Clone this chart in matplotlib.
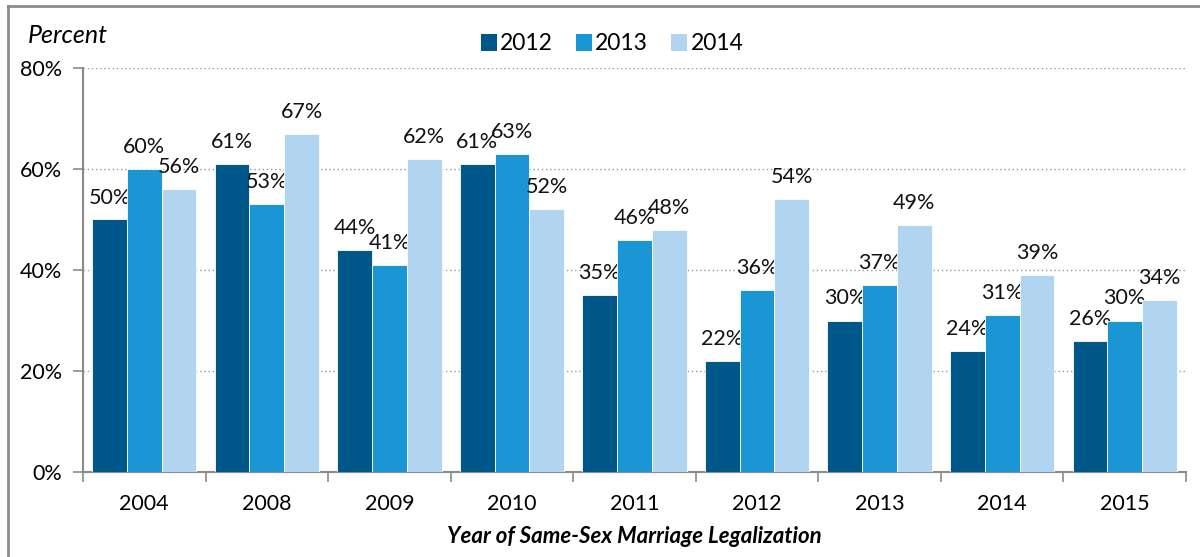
import numpy as np
import matplotlib
matplotlib.use("Agg")
import matplotlib.pyplot as plt
from matplotlib.lines import Line2D
from matplotlib.patches import Patch

plt.rcParams['font.family'] = ['Lato', 'DejaVu Sans']

# Data
years = ['2004', '2008', '2009', '2010', '2011', '2012', '2013', '2014', '2015']
series_names = ['2012', '2013', '2014']
vals_2012 = [50, 61, 44, 61, 35, 22, 30, 24, 26]
vals_2013 = [60, 53, 41, 63, 46, 36, 37, 31, 30]
vals_2014 = [56, 67, 62, 52, 48, 54, 49, 39, 34]
colors = ['#00578a', '#1a96d4', '#b1d5f0']

fig = plt.figure(figsize=(12, 5.57), dpi=100)
ax = fig.add_axes([83 / 1200, 85 / 557, (1186 - 83) / 1200, (472 - 68) / 557])

x = np.arange(len(years))
width = 0.284
for i, (vals, c) in enumerate(zip([vals_2012, vals_2013, vals_2014], colors)):
    bars = ax.bar(x + (i - 1) * width, vals, width, color=c, edgecolor='white',
                  linewidth=0.6, zorder=3)
    for b, v in zip(bars, vals):
        ax.annotate(f'{v}%', (b.get_x() + b.get_width() / 2, v),
                    xytext=(0, 16), textcoords='offset pixels',
                    ha='center', va='baseline', fontsize=15.5, color='#111111')

ax.set_xlim(-0.5, len(years) - 0.5)
ax.set_ylim(0, 80)
ax.set_yticks([0, 20, 40, 60, 80])
ax.set_yticklabels(['0%', '20%', '40%', '60%', '80%'], fontsize=15.5)
ax.yaxis.grid(True, linestyle=(0, (1, 2)), color='#999999', linewidth=1, zorder=0)

# category labels between boundary ticks
ax.set_xticks(np.arange(len(years) + 1) - 0.5)
ax.set_xticklabels([])
ax.set_xticks(x, minor=True)
ax.set_xticklabels(years, minor=True, fontsize=15.5)
ax.tick_params(axis='x', which='minor', length=0, pad=16)
ax.tick_params(axis='x', which='major', length=7, color='#8a8a8a', width=1.2)
ax.tick_params(axis='y', length=7, color='#8a8a8a', width=1.2, pad=8)

for s in ['top', 'right']:
    ax.spines[s].set_visible(False)
for s in ['left', 'bottom']:
    ax.spines[s].set_color('#8a8a8a')
    ax.spines[s].set_linewidth(1.5)

fig.text(28 / 1200, 1 - 43 / 557, 'Percent', fontsize=18, style='italic',
         va='baseline', ha='left')
fig.text(634.5 / 1200, 1 - 543 / 557, 'Year of Same-Sex Marriage Legalization',
         fontsize=16, style='italic', weight='bold', va='baseline', ha='center')

handles = [Patch(facecolor=c, edgecolor='none') for c in colors]
fig.legend(handles, series_names, loc='center', bbox_to_anchor=(612 / 1200, 1 - 44 / 557),
           ncol=3, frameon=False, fontsize=16.5, handlelength=0.7, handleheight=0.7,
           handletextpad=0.15, columnspacing=1.0, borderpad=0)

# outer frame (only top and left edges are visible in the crop)
fig.add_artist(Line2D([8 / 1200, 8 / 1200], [0, 1 - 6 / 557], color='#8c8c8c', lw=2))
fig.add_artist(Line2D([8 / 1200, 1], [1 - 6 / 557, 1 - 6 / 557], color='#8c8c8c', lw=2))

fig.savefig('out.png', dpi=100)
